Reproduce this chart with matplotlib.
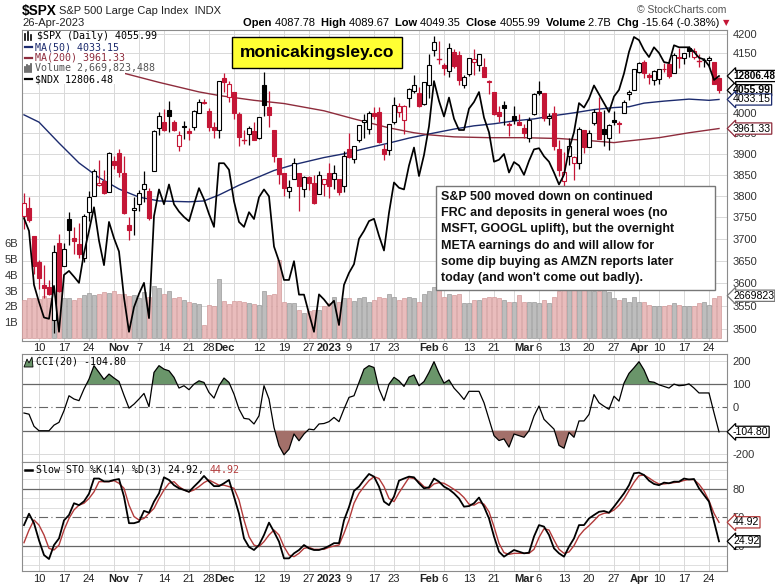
import numpy as np
import pandas as pd
import matplotlib
matplotlib.use("Agg")
import matplotlib.pyplot as plt
from matplotlib.patches import Rectangle, Polygon
from matplotlib.ticker import FixedLocator, NullLocator, FixedFormatter

# ---------------- data ----------------
holidays = ["2022-11-24", "2022-12-26", "2023-01-02", "2023-01-16", "2023-02-20", "2023-04-07"]
dates = pd.bdate_range("2022-10-05", "2023-04-26")
dates = dates[~dates.isin(pd.to_datetime(holidays))]

prev_close = 3790.93
opens = [3753.25, 3771.97, 3706.74, 3647.51, 3595.86, 3590.83, 3520.37, 3690.41, 3638.65, 3746.26,
         3703.11, 3689.05, 3657.10, 3762.01, 3799.44, 3825.97, 3834.69, 3808.26, 3881.85, 3901.79,
         3852.90, 3733.25, 3766.98, 3780.71, 3817.02, 3810.94, 3859.89, 3963.72, 3977.97, 4006.41,
         3976.82, 3919.26, 3966.39, 3956.23, 3965.51, 4000.30, 4023.34, 4005.36, 3964.19, 3957.18,
         4087.14, 4040.17, 4052.02, 3996.63, 3933.28, 3947.79, 3954.17, 3939.29, 4069.38, 4015.54,
         3958.37, 3890.91, 3853.79, 3810.47, 3839.49, 3853.26, 3815.11, 3843.34, 3829.56, 3805.45,
         3829.06, 3853.29, 3840.36, 3839.74, 3823.37, 3910.82, 3888.57, 3932.35, 3977.57, 3960.60,
         3999.28, 4002.25, 3911.84, 3909.04, 3978.14, 4001.74, 3982.71, 4036.08, 4053.72, 4049.27,
         4020.85, 4070.07, 4158.68, 4136.69, 4119.57, 4105.35, 4153.47, 4144.25, 4068.92, 4096.62,
         4126.70, 4119.50, 4114.75, 4077.39, 4052.35, 4001.83, 4018.60, 3973.24, 3992.36, 3977.19,
         3963.34, 3938.68, 3998.02, 4055.15, 4048.26, 3987.55, 3998.66, 3912.77, 3835.12, 3894.01,
         3876.74, 3878.93, 3958.69, 3917.47, 3975.89, 4002.04, 3959.21, 3939.21, 3982.93, 3974.13,
         3999.53, 4046.74, 4056.18, 4102.20, 4128.03, 4094.50, 4081.15, 4085.20, 4110.29, 4121.72,
         4100.04, 4140.11, 4137.17, 4164.26, 4139.77, 4130.48, 4132.14, 4132.07, 4126.43, 4087.78]
highs = [3806.91, 3797.93, 3706.74, 3652.17, 3640.66, 3608.34, 3685.41, 3712.00, 3689.73, 3762.79,
         3728.58, 3736.00, 3757.89, 3810.74, 3862.85, 3886.15, 3859.95, 3905.42, 3893.73, 3911.79,
         3894.44, 3750.59, 3796.34, 3813.95, 3859.40, 3818.20, 3958.33, 4001.48, 4008.97, 4028.84,
         3983.09, 3954.33, 3979.89, 3962.00, 4005.88, 4033.78, 4034.02, 4012.27, 3976.77, 4080.11,
         4100.51, 4080.48, 4052.45, 4001.51, 3957.57, 3966.65, 3977.02, 3990.71, 4100.96, 4053.76,
         3958.37, 3890.91, 3854.86, 3838.24, 3889.82, 3853.26, 3845.80, 3846.65, 3848.32, 3858.19,
         3839.85, 3878.46, 3873.16, 3839.74, 3906.19, 3950.57, 3919.83, 3970.07, 3997.76, 4003.95,
         4015.39, 4014.16, 3922.94, 3972.96, 4039.31, 4023.92, 4019.55, 4061.57, 4094.21, 4063.85,
         4077.16, 4148.95, 4195.44, 4182.36, 4124.63, 4176.54, 4160.77, 4156.23, 4094.36, 4138.90,
         4159.77, 4148.11, 4136.54, 4081.51, 4052.35, 4017.37, 4028.30, 3978.25, 4018.05, 3997.50,
         3971.73, 3990.84, 4048.29, 4078.49, 4050.00, 4000.41, 4017.81, 3934.05, 3905.05, 3937.29,
         3894.26, 3964.46, 3958.91, 3956.62, 4009.08, 4039.49, 4007.66, 3972.74, 4003.83, 3979.20,
         4030.59, 4057.85, 4110.75, 4127.66, 4133.13, 4099.69, 4107.32, 4109.50, 4124.26, 4134.37,
         4150.26, 4163.19, 4151.72, 4169.48, 4162.57, 4148.57, 4138.02, 4142.41, 4126.43, 4089.67]
lows = [3722.66, 3739.22, 3620.73, 3588.10, 3568.45, 3573.86, 3491.58, 3579.68, 3638.65, 3686.53,
        3666.51, 3656.44, 3647.42, 3741.65, 3799.44, 3824.07, 3803.79, 3808.26, 3863.18, 3843.80,
        3758.68, 3698.15, 3708.84, 3764.70, 3786.28, 3744.22, 3859.89, 3944.82, 3956.40, 3953.17,
        3954.34, 3906.54, 3935.98, 3933.34, 3956.88, 3998.66, 4020.76, 3955.77, 3937.65, 3938.58,
        4050.87, 4026.63, 3984.49, 3918.39, 3922.68, 3921.57, 3933.04, 3935.30, 3993.03, 3965.65,
        3879.45, 3827.91, 3800.04, 3795.62, 3839.49, 3764.49, 3797.01, 3813.22, 3780.78, 3805.45,
        3800.34, 3794.33, 3815.77, 3802.42, 3809.56, 3890.42, 3877.29, 3928.54, 3937.56, 3947.67,
        3984.57, 3926.59, 3885.54, 3897.86, 3971.64, 3989.79, 3949.06, 4013.29, 4048.70, 4015.55,
        4020.44, 4037.20, 4141.88, 4123.36, 4093.38, 4088.39, 4111.21, 4069.67, 4060.79, 4092.67,
        4095.01, 4103.98, 4089.49, 4047.95, 3995.19, 3976.90, 3969.19, 3943.08, 3973.55, 3968.98,
        3939.05, 3928.16, 3995.17, 4044.61, 3980.31, 3969.76, 3908.70, 3846.32, 3808.86, 3873.63,
        3838.24, 3864.11, 3901.27, 3916.89, 3971.19, 3936.17, 3919.05, 3909.16, 3970.49, 3951.53,
        3999.53, 4032.10, 4056.18, 4098.79, 4086.87, 4072.56, 4069.84, 4072.55, 4102.61, 4086.94,
        4099.40, 4113.20, 4123.18, 4140.36, 4134.49, 4114.57, 4113.86, 4117.77, 4071.38, 4049.35]
closes = [3783.28, 3744.52, 3639.66, 3612.39, 3588.84, 3577.03, 3669.91, 3583.07, 3677.95, 3719.98,
          3695.16, 3665.78, 3752.75, 3797.34, 3859.11, 3830.60, 3807.30, 3901.06, 3871.98, 3856.10,
          3759.69, 3719.89, 3770.55, 3806.80, 3828.11, 3748.57, 3956.37, 3992.93, 3957.25, 3991.73,
          3958.79, 3946.56, 3965.34, 3949.94, 4003.58, 4027.26, 4026.12, 3963.94, 3957.63, 4080.11,
          4076.57, 4071.70, 3998.84, 3941.26, 3933.92, 3963.51, 3934.38, 3990.56, 4019.65, 3995.32,
          3895.75, 3852.36, 3817.66, 3821.62, 3878.44, 3822.39, 3844.82, 3829.25, 3783.22, 3849.28,
          3839.50, 3824.14, 3852.97, 3808.10, 3895.08, 3892.09, 3919.25, 3969.61, 3983.17, 3999.09,
          3990.97, 3928.86, 3898.85, 3972.61, 4019.81, 4016.95, 4016.22, 4060.43, 4070.56, 4017.77,
          4076.60, 4119.21, 4179.76, 4136.48, 4111.08, 4164.00, 4117.86, 4081.50, 4090.46, 4137.29,
          4136.13, 4147.60, 4090.41, 4079.09, 3997.34, 3991.05, 4012.32, 3970.04, 3982.24, 3970.15,
          3951.39, 3981.35, 4045.64, 4048.42, 3986.37, 3992.01, 3918.32, 3861.59, 3855.76, 3919.29,
          3891.93, 3960.28, 3916.64, 3951.57, 4002.87, 3936.97, 3948.72, 3970.99, 3977.53, 3971.27,
          4027.81, 4050.83, 4109.31, 4124.51, 4100.60, 4090.38, 4105.02, 4109.11, 4108.94, 4091.95,
          4146.22, 4137.64, 4151.32, 4154.87, 4154.52, 4129.79, 4133.52, 4137.04, 4071.63, 4055.99]
volume_b = [2.40, 2.50, 2.55, 2.45, 2.65, 2.55, 3.15, 2.95, 2.55, 2.50,
            2.40, 2.55, 2.70, 2.85, 2.70, 2.80, 2.90, 2.85, 2.95, 2.75,
            2.80, 2.65, 2.70, 2.55, 2.90, 2.60, 3.30, 3.15, 2.80, 2.95,
            2.55, 2.60, 2.40, 2.25, 2.20, 2.15, 0.80, 2.10, 2.00, 3.70,
            2.35, 2.15, 2.35, 2.35, 2.25, 2.20, 2.15, 2.10, 3.00, 2.70,
            2.80, 4.90, 2.30, 2.20, 2.20, 1.80, 1.60, 1.70, 1.80, 1.80,
            2.00, 2.20, 2.60, 2.30, 2.50, 2.50, 2.35, 2.50, 2.60, 2.30,
            2.40, 2.60, 2.50, 2.80, 2.60, 2.40, 2.50, 2.60, 2.50, 2.30,
            2.80, 3.00, 3.20, 3.50, 2.60, 2.80, 2.70, 2.80, 2.20, 2.20,
            2.40, 2.40, 2.50, 2.60, 2.60, 2.50, 2.40, 2.30, 2.30, 2.70,
            2.30, 2.30, 2.30, 2.20, 2.40, 2.20, 2.60, 3.00, 3.90, 3.40,
            3.70, 3.40, 5.50, 3.40, 3.00, 3.00, 3.40, 2.90, 2.50, 2.40,
            2.50, 2.30, 2.60, 2.30, 2.30, 2.10, 2.00, 2.00, 2.00, 2.10,
            2.20, 2.10, 2.00, 2.00, 2.00, 2.20, 2.30, 2.10, 2.50, 2.669823488]
ndx = [11565, 11460, 11025, 10890, 10770, 10760, 11017, 10660, 11104, 11136,
       11090, 11041, 11280, 11460, 11656, 11380, 11182, 11534, 11400, 11292,
       10925, 10660, 10850, 10955, 11041, 10765, 11582, 11806, 11681, 11848,
       11681, 11620, 11575, 11540, 11681, 11817, 11723, 11600, 11493, 12030,
       12030, 11974, 11706, 11534, 11493, 11615, 11558, 11740, 11806, 11748,
       11332, 11214, 11064, 11064, 11214, 10948, 10948, 10800, 10660, 10950,
       10910, 10860, 10900, 10712, 11025, 11120, 11190, 11395, 11460, 11541,
       11560, 11420, 11300, 11610, 11865, 11820, 11806, 12010, 12166, 11920,
       12101, 12353, 12760, 12580, 12440, 12610, 12420, 12320, 12320, 12510,
       12570, 12660, 12430, 12300, 12043, 12060, 12110, 11950, 12040, 12010,
       11930, 12050, 12150, 12160, 12090, 12043, 11950, 11848, 11930, 12150,
       12300, 12560, 12520, 12600, 12720, 12640, 12560, 12480, 12620, 12680,
       12830, 13030, 13170, 13140, 13047, 12982, 13073, 13020, 12935, 12925,
       13092, 13073, 13073, 13073, 13030, 12975, 12960, 12900, 12770, 12806.48]
ma50_dates = ["2022-10-05", "2022-10-10", "2022-10-14", "2022-10-20", "2022-10-26", "2022-11-01",
              "2022-11-07", "2022-11-11", "2022-11-21", "2022-11-25", "2022-11-30", "2022-12-06",
              "2022-12-12", "2022-12-15", "2022-12-21", "2022-12-30", "2023-01-06", "2023-01-12",
              "2023-01-20", "2023-01-26", "2023-02-01", "2023-02-08", "2023-02-14", "2023-02-21",
              "2023-02-27", "2023-03-03", "2023-03-09", "2023-03-15", "2023-03-21", "2023-03-27",
              "2023-03-30", "2023-04-04", "2023-04-11", "2023-04-18", "2023-04-24", "2023-04-26"]
ma50 = [3995, 3977, 3926, 3878, 3843, 3816, 3797, 3788, 3786, 3788, 3802, 3825,
        3845, 3860, 3874, 3891, 3900, 3912, 3926, 3938, 3948, 3960, 3968, 3973,
        3980, 3985, 3993, 4000, 4008, 4013, 4015, 4024, 4029, 4034, 4031, 4033.15]
ma200_dates = ["2022-10-05", "2022-10-12", "2022-10-19", "2022-10-26", "2022-11-02", "2022-11-11",
               "2022-11-23", "2022-11-30", "2022-12-09", "2022-12-19", "2022-12-30", "2023-01-10",
               "2023-01-20", "2023-01-27", "2023-02-01", "2023-02-08", "2023-02-17", "2023-03-01",
               "2023-03-10", "2023-03-20", "2023-03-27", "2023-03-29", "2023-04-10", "2023-04-18",
               "2023-04-26"]
ma200 = [4165, 4150, 4133, 4115, 4099, 4076, 4052, 4043, 4031, 4023, 4005, 3985,
         3963, 3951, 3946, 3941, 3939, 3939, 3937, 3932, 3927, 3930, 3939, 3951, 3961.33]
cci = [-24, -29, -81, -100, -100, -100, -76, -64, -14, 50,
       36, 29, 79, 121, 179, 150, 120, 143, 126, 111,
       52, -3, 14, 36, 60, 3, 150, 179, 164, 157,
       129, 83, 93, 76, 100, 114, 107, 64, 40, 93,
       126, 107, 57, -7, -47, -50, -71, -36, 93, 36,
       -86, -164, -203, -179, -114, -143, -114, -93, -96, -71,
       -69, -61, -43, -61, -7, 43, 50, 107, 164, 179,
       171, 79, 29, 100, 129, 114, 90, 130, 139, 93,
       111, 150, 196, 146, 104, 118, 83, 60, 34, 69,
       69, 69, 20, -51, -121, -142, -135, -170, -114, -121,
       -128, -100, -37, 6, -51, -72, -93, -163, -175, -107,
       -128, -58, -58, -30, 55, 20, 5, -8, 48, 27,
       104, 146, 170, 196, 161, 111, 108, 97, 90, 83,
       100, 93, 95, 101, 83, 62, 62, 62, -23, -104.80]
sto_k = [42, 54, 44, 26, 10.5, 6.3, 21, 28, 47, 52.6,
         65, 63, 67, 75, 91, 91, 88, 88, 89.5, 90.5,
         72, 44, 44, 45.6, 57, 55, 66.7, 75.4, 92.3, 89.5,
         84, 80.7, 79, 77, 82.5, 87.7, 93.7, 88, 83, 83,
         86, 89.5, 72, 54, 28, 19, 15.8, 21, 31.6, 44.6,
         35, 24.6, 7, 7, 12.3, 15.8, 21, 17.5, 15.8, 15.8,
         17.5, 20, 23, 23, 47, 61, 78, 82.5, 89.5, 95.8,
         93, 82.5, 66.7, 63, 72, 88.8, 91, 93, 92.3, 86,
         80.7, 81.8, 91, 87.7, 82.5, 79.6, 75.4, 70, 61.4, 62,
         65, 71, 61.4, 49, 30, 14, 8.8, 12.3, 15.8, 14,
         12.3, 13, 30, 42, 40.4, 31.6, 17.5, 12.3, 8.8, 19.3,
         28, 42, 42, 49, 52.6, 56, 56.8, 55, 61.4, 68.4,
         75.4, 84, 96.5, 97.2, 94.7, 88.8, 85.3, 84, 86.7, 86,
         87.7, 87.7, 91, 90, 90.5, 80.7, 73.7, 66.7, 45.6, 24.92]
sto_d = [23.5, 36.8, 47.4, 42, 31.6, 17.5, 15.8, 21, 36.8, 49,
         58, 63, 65, 70, 77, 87.7, 87.7, 87.7, 88.8, 86,
         80.7, 63, 51, 47.4, 49, 54.4, 59.6, 70, 79, 86,
         87.7, 82.5, 79, 77, 79, 82.5, 86.7, 89.5, 86.7, 84,
         84, 82.5, 80.7, 68.4, 47.4, 29.8, 21, 19.3, 24.6, 31.6,
         36.8, 31.6, 19.3, 10.5, 8.8, 12.3, 17.5, 18.6, 16.5, 16.5,
         16.5, 18.6, 20, 21, 33.3, 47.4, 65, 75.4, 82.5, 88.8,
         93, 91, 82.5, 70, 66.7, 76, 84, 92, 91, 87.7,
         82.5, 80.7, 85.3, 86.7, 86, 83, 79.6, 76, 71, 64,
         63, 66, 64, 56, 40.4, 22.8, 13, 11.2, 12.3, 12.3,
         12.3, 12.3, 16.5, 29, 38.2, 36.8, 26.3, 16.5, 12.3, 13.7,
         20.4, 30.5, 36.8, 41.4, 46.7, 52.3, 54.4, 55, 57.9, 62.8,
         69.5, 78.2, 87, 94, 94.7, 91.6, 88, 85.3, 85.3, 86,
         86.7, 87.4, 89, 90, 89.8, 85, 77.9, 67.7, 54.4, 44.92]

tick_dates = ["2022-10-10", "2022-10-17", "2022-10-24", "2022-11-01", "2022-11-07", "2022-11-14",
              "2022-11-21", "2022-11-28", "2022-12-01", "2022-12-12", "2022-12-19", "2022-12-27",
              "2023-01-03", "2023-01-09", "2023-01-17", "2023-01-23", "2023-02-01", "2023-02-06",
              "2023-02-13", "2023-02-21", "2023-03-01", "2023-03-06", "2023-03-13", "2023-03-20",
              "2023-03-27", "2023-04-03", "2023-04-10", "2023-04-17", "2023-04-24"]
tick_labels = ["10", "17", "24", "Nov", "7", "14", "21", "28", "Dec", "12", "19", "27",
               "2023", "9", "17", "23", "Feb", "6", "13", "21", "Mar", "6", "13", "20",
               "27", "Apr", "10", "17", "24"]
bold_labels = {"Nov", "Dec", "2023", "Feb", "Mar", "Apr"}
price_grid = [3500, 3550, 3600, 3650, 3700, 3750, 3800, 3850, 3900, 3950, 4000, 4050, 4100, 4150, 4200]
price_labels = [3500, 3550, 3600, 3650, 3700, 3750, 3800, 3850, 3900, 3950, 4000, 4150, 4200]
vol_ticks = [1, 2, 3, 4, 5, 6]
note_lines = ["S&P 500 moved down on continued",
              "FRC and deposits in general woes (no",
              "MSFT, GOOGL uplift), but the overnight",
              "META earnings do and will allow for",
              "some dip buying as AMZN reports later",
              "today (and won't come out badly)."]

# ---------------- styling ----------------
RED = "#c41636"
NAVY = "#1c2b6e"
MAROON = "#8e2c3c"
GRID = "#d9d9d9"
FRAME = "#8c8c8c"
TXT = "#222222"
plt.rcParams['font.family'] = ['Liberation Sans', 'DejaVu Sans']

W, H = 775, 586
fig = plt.figure(figsize=(W / 100, H / 100), dpi=100)
fig.patch.set_facecolor("white")


def rect(l, t, r, b):
    return [l / W, 1 - b / H, (r - l) / W, (b - t) / H]


def fxy(x, y):
    return x / W, 1 - y / H


L, R = 22, 727
ax_g = fig.add_axes(rect(L, 30, R, 341))
ax_v = fig.add_axes(rect(L, 30, R, 341))
ax_p = fig.add_axes(rect(L, 30, R, 341))
ax_n = fig.add_axes(rect(L, 30, R, 341))
ax_c = fig.add_axes(rect(L, 354, R, 462))
ax_s = fig.add_axes(rect(L, 462, R, 571))

n = len(dates)
x = np.arange(n)
didx = {d.strftime("%Y-%m-%d"): i for i, d in enumerate(dates)}
xlim = (-0.4, n + 0.6)
week_starts = [i for i in range(1, n) if dates[i].weekday() <= dates[i - 1].weekday()]
tick_pos = [didx[d] for d in tick_dates]

for a in (ax_g, ax_v, ax_p, ax_n, ax_c, ax_s):
    a.set_xlim(*xlim)
    a.set_xticks([])
    for s in a.spines.values():
        s.set_color(FRAME)
        s.set_linewidth(0.8)
for a in (ax_v, ax_p, ax_n):
    a.patch.set_alpha(0)
    for s in a.spines.values():
        s.set_visible(False)
    a.set_yticks([])

# grid / price axis
ax_g.set_yscale("log")
ax_g.set_ylim(3474, 4210)
ax_g.yaxis.set_major_locator(FixedLocator(price_labels))
ax_g.yaxis.set_major_formatter(FixedFormatter([str(v) for v in price_labels]))
ax_g.yaxis.set_minor_locator(NullLocator())
ax_g.yaxis.tick_right()
ax_g.tick_params(axis="y", length=0, pad=4, labelsize=8, labelcolor="#333333")
for v in price_grid:
    ax_g.axhline(v, color=GRID, lw=0.7, zorder=0)
for i in week_starts:
    ax_g.axvline(i, color=GRID, lw=0.7, zorder=0)
ax_g.set_xticks(tick_pos)
ax_g.set_xticklabels(tick_labels)
ax_g.tick_params(axis="x", length=0, pad=1.5, labelsize=8, labelcolor=TXT)
for lab in ax_g.get_xticklabels():
    if lab.get_text() in bold_labels:
        lab.set_fontweight("bold")

# volume
vol = np.array(volume_b) * 1e9
cl = np.array(closes)
pc = np.concatenate([[prev_close], cl[:-1]])
down = cl < pc
ax_v.bar(x, vol, width=0.86, color=np.where(down, "#e9bcbc", "#bdbdbd"),
         edgecolor=np.where(down, "#d29a9a", "#9a9a9a"), linewidth=0.5, zorder=1)
ax_v.set_ylim(-0.19e9, 19.46e9)
ax_v.yaxis.set_major_locator(FixedLocator([v * 1e9 for v in vol_ticks]))
ax_v.yaxis.set_major_formatter(FixedFormatter([f"{v}B" for v in vol_ticks]))
ax_v.tick_params(axis="y", length=0, pad=3, labelsize=8, labelcolor="#333333")

# price candles + MAs
ax_p.set_yscale("log")
ax_p.set_ylim(3474, 4210)
ax_p.yaxis.set_minor_locator(NullLocator())
ax_p.set_yticks([])
op, hi, lo = np.array(opens), np.array(highs), np.array(lows)
for i in range(n):
    col = RED if down[i] else "black"
    ax_p.plot([i, i], [lo[i], hi[i]], color=col, lw=0.9, zorder=3, solid_capstyle="butt")
    b0, b1 = min(op[i], cl[i]), max(op[i], cl[i])
    filled = cl[i] < op[i]
    if b1 - b0 < 0.8:
        ax_p.plot([i - 0.36, i + 0.36], [cl[i], cl[i]], color=col, lw=1.0, zorder=4)
    else:
        ax_p.add_patch(Rectangle((i - 0.36, b0), 0.72, b1 - b0, facecolor=col if filled else "white",
                                 edgecolor=col, lw=0.8, zorder=4))
m50x = [didx[d] for d in ma50_dates]
m200x = [didx[d] for d in ma200_dates]
ax_p.plot(m50x, ma50, color=NAVY, lw=1.0, zorder=2)
ax_p.plot(m200x, ma200, color=MAROON, lw=1.0, zorder=2)

# NDX overlay
ax_n.set_yscale("log")
ax_n.set_ylim(10590, 13236)
ax_n.yaxis.set_minor_locator(NullLocator())
ax_n.set_yticks([])
ax_n.plot(x, ndx, color="black", lw=1.25, zorder=5)

# CCI panel
ax_c.set_ylim(-234, 229)
for i in week_starts:
    ax_c.axvline(i, color=GRID, lw=0.7, zorder=0)
for v in (200, -200):
    ax_c.axhline(v, color=GRID, lw=0.7, zorder=0)
ax_c.axhline(100, color="#666666", lw=0.9, zorder=1)
ax_c.axhline(-100, color="#666666", lw=0.9, zorder=1)
ax_c.axhline(0, color="#666666", lw=0.8, ls=(0, (8, 3, 1, 3)), zorder=1)
cc = np.array(cci, dtype=float)
ax_c.fill_between(x, cc, 100, where=cc > 100, interpolate=True, color="#6a956a", lw=0, zorder=2)
ax_c.fill_between(x, cc, -100, where=cc < -100, interpolate=True, color="#a3706a", lw=0, zorder=2)
ax_c.plot(x, cc, color="black", lw=0.9, zorder=3)
ax_c.yaxis.tick_right()
ax_c.set_yticks([200, 100, 0, -200])
ax_c.set_yticklabels(["200", "100", "0", "-200"])
ax_c.tick_params(axis="y", length=0, pad=4, labelsize=8, labelcolor="#333333")

# STO panel
ax_s.set_ylim(-6.3, 108.4)
for i in week_starts:
    ax_s.axvline(i, color=GRID, lw=0.7, zorder=0)
for v in (0, 10, 30, 40, 60, 70, 90, 100):
    ax_s.axhline(v, color=GRID, lw=0.6, zorder=0)
ax_s.axhline(80, color="#666666", lw=0.9, zorder=1)
ax_s.axhline(20, color="#666666", lw=0.9, zorder=1)
ax_s.axhline(50, color="#666666", lw=0.8, ls=(0, (8, 3, 1, 3)), zorder=1)
ax_s.plot(x, sto_d, color="#b23a3a", lw=1.0, zorder=2)
ax_s.plot(x, sto_k, color="black", lw=1.3, zorder=3)
ax_s.yaxis.tick_right()
ax_s.set_yticks([80, 50, 20])
ax_s.set_yticklabels(["80", "50", "20"])
ax_s.tick_params(axis="y", length=0, pad=4, labelsize=8, labelcolor="#333333")
ax_s.set_xticks(tick_pos)
ax_s.set_xticklabels(tick_labels)
ax_s.tick_params(axis="x", length=0, pad=2, labelsize=8, labelcolor=TXT)
for lab in ax_s.get_xticklabels():
    if lab.get_text() in bold_labels:
        lab.set_fontweight("bold")


# value boxes on right
def vbox(ax, val, text, ec, bold=False, color="black", fs=7.6):
    ax.annotate(text, xy=(1.0, val), xycoords=ax.get_yaxis_transform(),
                xytext=(6, 0), textcoords="offset pixels", ha="left", va="center",
                fontsize=fs, fontweight="bold" if bold else "normal", color=color,
                bbox=dict(boxstyle="larrow,pad=0.06", fc="white", ec=ec, lw=0.9),
                annotation_clip=False, zorder=20)


vbox(ax_n, ndx[-1], f"{ndx[-1]:.2f}", "black", bold=True, fs=7.2)
vbox(ax_g, closes[-1], f"{closes[-1]:.2f}", "black", bold=True)
vbox(ax_g, ma50[-1], f"{ma50[-1]:.2f}", NAVY)
vbox(ax_g, ma200[-1], f"{ma200[-1]:.2f}", MAROON)
vbox(ax_v, vol[-1], f"{int(round(vol[-1] / 1000))}", "#777777")
vbox(ax_c, cci[-1], f"{cci[-1]:.2f}", "black")
vbox(ax_s, sto_d[-1], f"{sto_d[-1]:.2f}", "#b23a3a")
vbox(ax_s, sto_k[-1], f"{sto_k[-1]:.2f}", "black")

# legend box in price panel
fig.add_artist(Rectangle(fxy(23, 84), 102 / W, 53 / H, transform=fig.transFigure,
                         facecolor="white", edgecolor="none", zorder=5))
mono = dict(family="DejaVu Sans Mono", fontsize=7.2)
leg = [(36, f"$SPX (Daily) {closes[-1]:.2f}", "black"),
       (47, f"MA(50) {ma50[-1]:.2f}", NAVY),
       (58, f"MA(200) {ma200[-1]:.2f}", MAROON),
       (68, f"Volume {int(round(vol[-1])):,}", "#555555"),
       (79, f"$NDX {ndx[-1]:.2f}", "black")]
for k, (yy, t, c) in enumerate(leg):
    fig.text(*fxy(35 if k else 37, yy), t, color=c, va="center", ha="left", zorder=6, **mono)
for yy, c in ((47, NAVY), (58, MAROON), (79, "black")):
    fig.add_artist(plt.Line2D([25 / W, 32 / W], [1 - yy / H] * 2, color=c, lw=1.6, zorder=6))
for dx, h in ((25, 6), (28, 8), (31, 5)):
    fig.add_artist(plt.Line2D([dx / W] * 2, [1 - 40 / H, 1 - (40 - h) / H], color="black", lw=1.2, zorder=6))
for dx, h in ((25, 5), (27, 7), (29, 6), (31, 8)):
    fig.add_artist(plt.Line2D([dx / W] * 2, [1 - 72 / H, 1 - (72 - h) / H], color="#555555", lw=1.2, zorder=6))

# CCI / STO legends
fig.add_artist(Polygon([fxy(24, 367), fxy(27, 359), fxy(29, 363), fxy(32, 357), fxy(33, 367)],
                       closed=True, transform=fig.transFigure, facecolor="#6a956a", edgecolor="black",
                       lw=0.6, zorder=6))
fig.text(*fxy(36, 362), f"CCI(20) {cci[-1]:.2f}", va="center", ha="left", zorder=6, color="black", **mono)
fig.add_artist(plt.Line2D([25 / W, 32 / W], [1 - 470 / H] * 2, color="black", lw=1.8, zorder=6))
t1 = fig.text(*fxy(36, 470), f"Slow STO %K(14) %D(3) {sto_k[-1]:.2f}, ", va="center", ha="left",
              zorder=6, color="black", **mono)
fig.canvas.draw()
bb = t1.get_window_extent()
fig.text(bb.x1 / W, 1 - 470 / H, f"{sto_d[-1]:.2f}", va="center", ha="left", zorder=6,
         color="#b23a3a", **mono)

# header
fig.text(*fxy(22, 11), "$SPX", fontsize=9.8, fontweight="bold", va="center", ha="left", color="black")
fig.text(*fxy(59, 11), "S&P 500 Large Cap Index  INDX", fontsize=8, va="center", ha="left", color=TXT)
fig.text(*fxy(22, 23), dates[-1].strftime("%d-%b-%Y"), fontsize=8, va="center", ha="left", color=TXT)
fig.text(*fxy(726, 10), "© StockCharts.com", fontsize=7.5, va="center", ha="right", color="#555555")
chg = closes[-1] - closes[-2]
hdr = [("Open ", True), (f"{opens[-1]:.2f}  ", False), ("High ", True), (f"{highs[-1]:.2f}  ", False),
       ("Low ", True), (f"{lows[-1]:.2f}  ", False), ("Close ", True), (f"{closes[-1]:.2f}  ", False),
       ("Volume ", True), (f"{volume_b[-1]:.1f}B  ", False), ("Chg ", True),
       (f"{chg:.2f} ({chg / closes[-2] * 100:.2f}%) ", False)]
xx = 243
renderer = fig.canvas.get_renderer()
for t, b in hdr:
    tt = fig.text(*fxy(xx, 23), t, fontsize=8, fontweight="bold" if b else "normal",
                  va="center", ha="left", color="black")
    xx += tt.get_window_extent(renderer).width
fig.text(*fxy(xx, 23), "▼", fontsize=6, va="center", ha="left", color=RED, family="DejaVu Sans")

# yellow site box
fig.add_artist(Rectangle(fxy(232, 68), 170 / W, 31 / H, transform=fig.transFigure,
                         facecolor="#ffff33", edgecolor="black", lw=1.0, zorder=7))
fig.text(*fxy(317, 52.5), "monicakingsley.co", fontsize=12.5, fontweight="bold", ha="center",
         va="center", zorder=8, color="black")

# note box
fig.add_artist(Rectangle(fxy(436, 290), 279 / W, 104 / H, transform=fig.transFigure,
                         facecolor="white", edgecolor="#777777", lw=1.0, zorder=7))
for k, line in enumerate(note_lines):
    fig.text(*fxy(441, 197 + 16.2 * k), line, fontsize=9, fontweight="bold", ha="left",
             va="center", zorder=8, color="#111111")

fig.savefig("out.png", dpi=100)
